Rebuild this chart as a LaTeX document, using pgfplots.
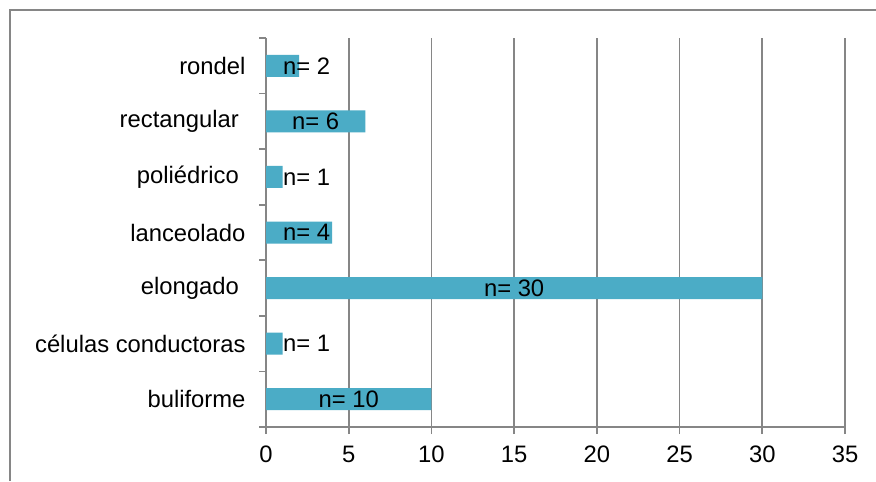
\documentclass[border=0pt]{standalone}
\usepackage{pgfplots}
\pgfplotsset{compat=1.18}
\usepackage{fontspec}
\setmainfont{Liberation Sans}
\definecolor{barc}{RGB}{75,172,198}
\definecolor{gridc}{RGB}{134,134,134}
\begin{document}
\fontsize{11.9}{14}\selectfont
\begin{tikzpicture}
\useasboundingbox[fill=white] (0,0) rectangle (438pt,240.5pt);
\draw[gridc, line width=0.9pt] (5pt,0) -- (5pt,235.5pt) -- (440pt,235.5pt);
\begin{axis}[
  at={(133pt,27pt)}, anchor=south west,
  scale only axis, width=289.5pt, height=194.5pt,
  xmin=0, xmax=35, ymin=-0.5, ymax=6.5,
  axis x line=bottom, axis y line=left,
  axis line style={gridc, line width=0.8pt, -},
  xtick={0,5,...,35},
  xmajorgrids, grid style={gridc, line width=0.8pt},
  ytick={0,...,6},
  yticklabels={buliforme, células conductoras, elongado\rule{0.28em}{0pt}, lanceolado, poliédrico\rule{0.28em}{0pt}, rectangular\rule{0.28em}{0pt}, rondel},
  minor ytick={-0.5,0.5,...,6.5},
  tick align=outside, major tick length=3.5pt, minor tick length=3.5pt,
  major y tick style={draw=none},
  tick style={gridc, line width=0.8pt},
  minor tick style={gridc, line width=0.8pt},
  yticklabel style={xshift=-2.6pt},
  xticklabel style={yshift=-2pt},
  /pgf/number format/assume math mode=true,
  tick label style={font=\fontsize{11.9}{14}\selectfont},
]
\addplot[xbar, bar width=11pt, fill=barc, draw=none]
  coordinates {(10,0) (1,1) (30,2) (4,3) (1,4) (6,5) (2,6)};
\addplot[draw=none, mark=none,
  nodes near coords={n= \pgfplotspointmeta},
  point meta=explicit symbolic,
  nodes near coords style={anchor=center, black, font=\fontsize{11.9}{14}\selectfont}]
  table[x=x, y=y, meta=v] {
x y v
5 0 10
2.45 1 1
15 2 30
2.45 3 4
2.45 4 1
3 5 6
2.45 6 2
};
\end{axis}
\end{tikzpicture}
\end{document}
